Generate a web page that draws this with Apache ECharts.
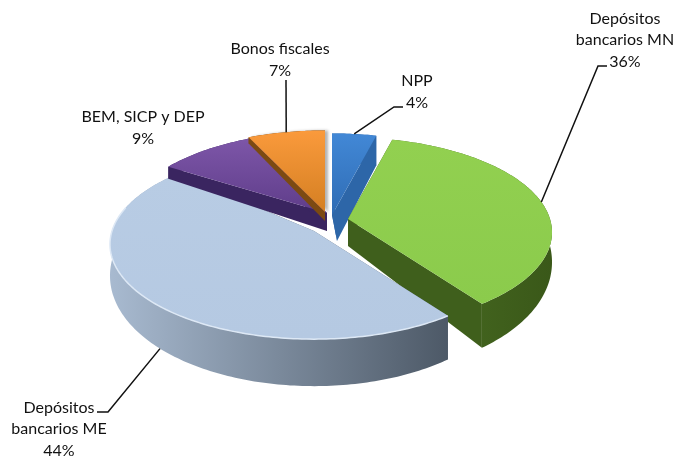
<!DOCTYPE html>
<html>
<head>
<meta charset="utf-8">
<title>Depósitos</title>
<script src="https://cdn.jsdelivr.net/npm/echarts@6/dist/echarts.min.js"></script>
<style>
  html, body { margin: 0; padding: 0; background: #fff; }
  #chart { width: 678px; height: 458px; }
</style>
</head>
<body>
<div id="chart"></div>
<script>
// datos
const categories = ['NPP', 'Depósitos\nbancarios MN', 'Depósitos\nbancarios ME', 'BEM, SICP y DEP', 'Bonos fiscales']
const values = [4, 36, 44, 9, 7]

// disposición de cada sector (en el mismo orden que categories)
const sliceCenters = [[332, 215], [348, 219], [314, 231], [327, 213], [325, 212]]
const sliceDepths = [[26, -4], [27, 21], [29, 18], [18, 11], [9, 3]]
const wallSkew = [5, 0, 0, 0, 0]
const hiddenOverlap = [0, 0, 10, 0, 0] // grados que quedan tapados por el sector siguiente
const labelCenters = [[417, 92], [625, 40], [59, 429], [143, 128], [280, 60]]
const leaderPaths = [
  [[394, 107], [403, 107]],
  [[598, 66], [607, 66]],
  [[108, 412], [97, 412]],
  null,
  [[286, 80]]
]
const topColors = [
  ['#4288d6', '#2f6cb4'],
  ['#92d050', '#8bcb4c'],
  ['#b8cce4', '#b5c9e2'],
  ['#7d56a8', '#5f3d8a'],
  ['#fa9a3c', '#d47f22']
]
const wallColors = ['#2d66a8', '#3f5f1c', '#5a6878', '#3a2560', '#7c4a12']
const rimColors = [
  ['#2d66a8', '#2d66a8'],
  ['#4a6e22', '#3a5819'],
  ['#a8bad0', '#4d5967'],
  ['#3a2560', '#3a2560'],
  ['#7c4a12', '#7c4a12']
]
const edgeHighlights = [null, null, '#dde8f5', null, null]

const RX = 202
const RY = 93
const PERSP = 0.14
const total = values.reduce((a, b) => a + b, 0)

// proyección del disco: a en grados, en sentido horario desde arriba
const project = (i, a, down) => {
  const center = sliceCenters[i]
  const rad = a * Math.PI / 180
  const u = Math.sin(rad)
  const v = -Math.cos(rad)
  const s = 1 / (1 - PERSP * v)
  const h = down ? sliceDepths[i][0] + sliceDepths[i][1] * v : 0
  return [center[0] + RX * u * s, center[1] + RY * v * s + h]
}

const arcPoints = (i, a0, a1, down) => {
  const pts = []
  const n = Math.ceil(Math.abs(a1 - a0))
  for (let k = 0; k <= n; k++) {
    pts.push(project(i, a0 + (a1 - a0) * k / n, down))
  }
  return pts
}

const wallPoints = (i, a) => {
  const center = sliceCenters[i]
  return [center, project(i, a, false), project(i, a, true), [center[0] + wallSkew[i], center[1] + sliceDepths[i][0]]]
}

const renderSlice = (params, api) => {
  const i = params.dataIndex
  const center = sliceCenters[i]
  let start = 0
  for (let k = 0; k < i; k++) start += values[k]
  const a0 = start / total * 360
  const a1 = (start + api.value(0)) / total * 360
  const mid = (a0 + a1) / 2
  const end = a1 + hiddenOverlap[i]

  const children = []
  const poly = (points, style) => children.push({ type: 'polygon', shape: { points }, style })

  // paredes y borde exterior, luego la cara superior
  poly(wallPoints(i, a0), { fill: wallColors[i] })
  poly(wallPoints(i, end), { fill: wallColors[i] })
  poly(arcPoints(i, a0, end, false).concat(arcPoints(i, end, a0, true)), {
    fill: new echarts.graphic.LinearGradient(0, 0, 1, 0, [
      { offset: 0, color: rimColors[i][0] },
      { offset: 1, color: rimColors[i][1] }
    ])
  })
  poly([center].concat(arcPoints(i, a0, end, false)), {
    fill: new echarts.graphic.LinearGradient(0, 0, 0, 1, [
      { offset: 0, color: topColors[i][0] },
      { offset: 1, color: topColors[i][1] }
    ]),
    shadowColor: i === 4 ? 'rgba(0,0,0,0.3)' : 'transparent',
    shadowBlur: i === 4 ? 3 : 0,
    shadowOffsetX: i === 4 ? 3 : 0
  })

  if (edgeHighlights[i]) {
    children.push({
      type: 'polyline',
      shape: { points: arcPoints(i, a0, 285, false) },
      style: { stroke: edgeHighlights[i], lineWidth: 1.5, fill: null }
    })
  }

  // línea guía desde la mitad del sector
  if (leaderPaths[i]) {
    const anchor = project(i, mid, mid > 90 && mid < 270)
    children.push({
      type: 'polyline',
      shape: { points: [anchor].concat(leaderPaths[i]) },
      style: { stroke: '#111', lineWidth: 1.5, fill: null }
    })
  }

  children.push({
    type: 'text',
    x: labelCenters[i][0],
    y: labelCenters[i][1],
    style: {
      text: categories[i] + '\n' + api.value(0) + '%',
      font: '16px Lato',
      lineHeight: 21.5,
      fill: '#111',
      align: 'center',
      verticalAlign: 'middle'
    }
  })

  return { type: 'group', children }
}

const chart = echarts.init(document.getElementById('chart'), null, { renderer: 'canvas' })
chart.setOption({
  animation: false,
  backgroundColor: '#fff',
  series: [
    {
      type: 'custom',
      coordinateSystem: 'none',
      data: values.map(v => [v]),
      renderItem: renderSlice
    }
  ]
})
</script>
</body>
</html>
